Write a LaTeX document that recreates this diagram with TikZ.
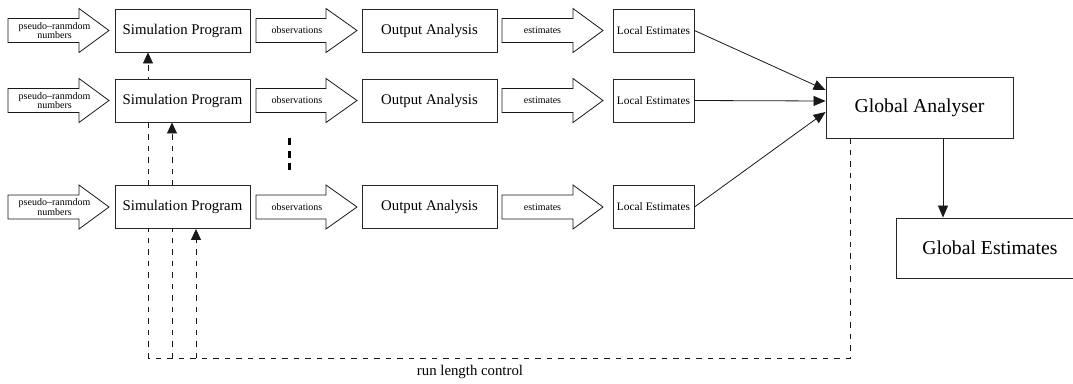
\documentclass[tikz,border=0pt]{standalone}
\usepackage{fontspec}
\setmainfont{Liberation Serif}
\usetikzlibrary{arrows.meta,backgrounds}
\begin{document}
\begin{tikzpicture}[x=1pt,y=-1pt,
  box/.style={draw=black!85, line width=0.9pt, fill=white, inner sep=0pt, minimum height=43pt},
  barr/.style={draw=black!90, line width=0.8pt, fill=white, line join=miter},
  smalltxt/.style={font=\fontsize{10}{9.5}\selectfont, align=center, inner sep=0pt},
  conn/.style={draw=black!90, line width=0.8pt, -{Triangle[length=12pt,width=10pt]}},
  ctl/.style={draw=black!90, line width=0.8pt, dash pattern=on 5.5pt off 6pt},
  ctlarr/.style={ctl, -{Triangle[length=11pt,width=10pt]}}]
\useasboundingbox (0,0) rectangle (1073,383);
\newcommand\bigarr[4]{%
  \draw[barr] (#1,#4-12) -- (#2,#4-12) -- (#2,#4-22) -- (#3,#4) -- (#2,#4+22) -- (#2,#4+12) -- (#1,#4+12) -- cycle;}

\foreach \r/\y in {1/30.5,2/100.5,3/207}{
  \bigarr{8}{79}{109}{\y}
  \node[smalltxt] (pn\r) at (54.5,\y) {pseudo–ranmdom\\numbers};
  \node[box, minimum width=135pt, font=\fontsize{14.8}{16}\selectfont] (sim\r) at (182.5,\y) {Simulation Program};
  \bigarr{256}{326}{357}{\y}
  \node[smalltxt] (obs\r) at (297,\y) {observations};
  \node[box, minimum width=135pt, font=\fontsize{14.8}{16}\selectfont] (oa\r) at (429.5,\y) {Output Analysis};
  \bigarr{502}{573}{603}{\y}
  \node[smalltxt] (est\r) at (542.5,\y) {estimates};
  \node[box, minimum width=81pt, font=\fontsize{11.4}{13}\selectfont] (loc\r) at (653.5,\y) {Local Estimates};
}

\node[box, minimum width=187pt, minimum height=61pt, font=\fontsize{19.7}{22}\selectfont] (GA) at (919.5,107.5) {Global Analyser};
\node[box, minimum width=188pt, minimum height=60pt, font=\fontsize{19.7}{22}\selectfont] (GE) at (990,248) {Global Estimates};

\draw[conn] (loc1.east) -- ([yshift=17.5pt]GA.west);
\draw[conn] (loc2.east) -- ([yshift=6.5pt]GA.west);
\draw[conn] (loc3.east) -- ([yshift=-4.5pt]GA.west);
\draw[conn] ([xshift=23.5pt]GA.south) -- ([xshift=23.5pt]GA.south |- GE.north);

% vertical dots
\coordinate (d1) at (289,138);
\coordinate (d2) at (289,170);
\draw[line width=3pt, dash pattern=on 7pt off 5.5pt] (d1) -- (d2);

% run length control
\coordinate (b1) at (148,358);
\coordinate (b2) at (172,358);
\coordinate (b3) at (196,358);
\coordinate (b4) at (850,358);
\begin{scope}[on background layer]
  \draw[ctl] ([xshift=-69.5pt]GA.south) -- (b4) -- (b1);
  \draw[ctlarr] (b1) -- (b1 |- sim1.south);
  \draw[ctlarr] (b2) -- (b2 |- sim2.south);
  \draw[ctlarr] (b3) -- (b3 |- sim3.south);
\end{scope}
\node[font=\fontsize{14.8}{16}\selectfont, inner sep=0pt] (rlc) at (470,372) {run length control};
\end{tikzpicture}
\end{document}
